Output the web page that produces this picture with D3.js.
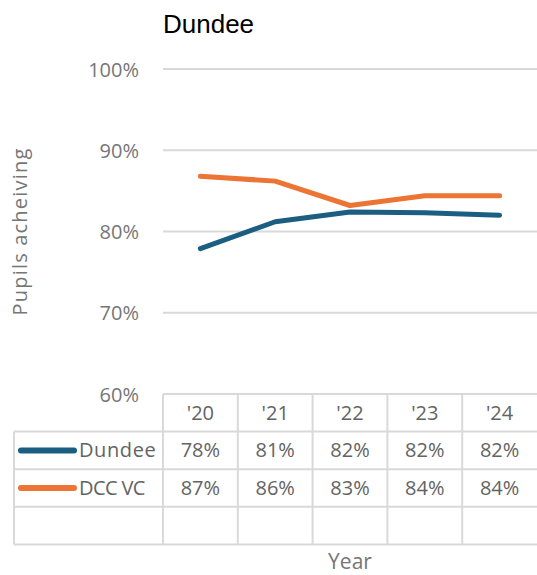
<!DOCTYPE html>
<html>
<head>
<meta charset="utf-8">
<script src="https://cdn.jsdelivr.net/npm/d3@7"></script>
<style>
  body { margin: 0; background: #fff; }
  svg text { font-family: "Open Sans", sans-serif; fill: #636363; }
</style>
</head>
<body>
<svg width="537" height="575"></svg>
<script>
// values
const years = ["'20", "'21", "'22", "'23", "'24"];
const dundee = [77.9, 81.2, 82.4, 82.3, 82.0];
const dccVc = [86.8, 86.2, 83.2, 84.4, 84.4];
const yTicks = [60, 70, 80, 90, 100];

const series = [
  { name: 'Dundee', values: dundee, color: '#1b5e82' },
  { name: 'DCC VC', values: dccVc, color: '#ec7434' }
];

const svg = d3.select('svg');
const grid = '#d9d9d9';

// plot area
const margin = { left: 163, right: 537, top: 69, bottom: 394 };
const rowH = 37.6;

const xScale = d3.scaleBand().domain(years).range([margin.left, margin.right]);
const yScale = d3.scaleLinear().domain([60, 100]).range([margin.bottom, margin.top]);

// title
svg.append('text')
  .attr('x', margin.left).attr('y', 33)
  .style('font-family', '"Liberation Sans", Arial, sans-serif')
  .style('font-size', '26px')
  .style('fill', '#000')
  .text('Dundee');

// gridlines
svg.append('g').selectAll('line')
  .data(yTicks.filter(d => d > 60))
  .enter().append('line')
  .attr('x1', margin.left).attr('x2', margin.right)
  .attr('y1', d => yScale(d)).attr('y2', d => yScale(d))
  .attr('stroke', grid).attr('stroke-width', 2);

// y axis labels
const yAxis = svg.append('g')
  .attr('transform', `translate(${margin.left - 21}, 0)`)
  .call(d3.axisLeft(yScale).tickValues(yTicks).tickSize(0).tickFormat(d => d + '%'));
yAxis.select('.domain').remove();
yAxis.selectAll('text')
  .style('font-family', '"Open Sans", sans-serif')
  .style('font-size', '20px')
  .style('fill', '#767676')
  .attr('dy', '0.35em');

// y axis title
svg.append('text')
  .attr('transform', `translate(27, ${(margin.top + margin.bottom) / 2}) rotate(-90)`)
  .attr('text-anchor', 'middle')
  .style('font-size', '20px')
  .style('letter-spacing', '1.2px')
  .style('fill', '#767676')
  .text('Pupils acheiving');

// lines
const line = d3.line()
  .x((d, i) => xScale(years[i]) + xScale.bandwidth() / 2)
  .y(d => yScale(d));

svg.append('g').selectAll('path')
  .data(series)
  .enter().append('path')
  .attr('d', d => line(d.values))
  .attr('fill', 'none')
  .attr('stroke', d => d.color)
  .attr('stroke-width', 5)
  .attr('stroke-linecap', 'round')
  .attr('stroke-linejoin', 'round');

// data table
const table = svg.append('g');
const tableLeft = 14;
const rowY = i => margin.bottom + rowH * i;   // i = 0 header top
const nRows = series.length + 1;                // plus one empty row

// horizontal lines
table.append('line')
  .attr('x1', margin.left).attr('x2', margin.right)
  .attr('y1', margin.bottom).attr('y2', margin.bottom)
  .attr('stroke', grid).attr('stroke-width', 2);
d3.range(1, nRows + 2).forEach(i => {
  table.append('line')
    .attr('x1', tableLeft).attr('x2', margin.right)
    .attr('y1', rowY(i)).attr('y2', rowY(i))
    .attr('stroke', grid).attr('stroke-width', 2);
});
// vertical lines
years.forEach(y => {
  table.append('line')
    .attr('x1', xScale(y)).attr('x2', xScale(y))
    .attr('y1', margin.bottom).attr('y2', rowY(nRows + 1))
    .attr('stroke', grid).attr('stroke-width', 2);
});
table.append('line')
  .attr('x1', tableLeft).attr('x2', tableLeft)
  .attr('y1', rowY(1)).attr('y2', rowY(nRows + 1))
  .attr('stroke', grid).attr('stroke-width', 2);

// header row
table.selectAll('.hdr')
  .data(years)
  .enter().append('text')
  .attr('class', 'hdr')
  .attr('x', d => xScale(d) + xScale.bandwidth() / 2)
  .attr('y', rowY(0) + rowH / 2)
  .attr('dy', '0.35em')
  .attr('text-anchor', 'middle')
  .style('font-size', '20px')
  .text(d => d);

// series rows
const fmt = d3.format('.0f');
series.forEach((s, r) => {
  const cy = rowY(r + 1) + rowH / 2;
  table.append('line')
    .attr('x1', 21).attr('x2', 74)
    .attr('y1', cy).attr('y2', cy)
    .attr('stroke', s.color).attr('stroke-width', 6)
    .attr('stroke-linecap', 'round');
  table.append('text')
    .attr('x', 79).attr('y', cy)
    .attr('dy', '0.35em')
    .style('font-size', '20px')
    .style('letter-spacing', r === 0 ? '0.6px' : '-0.6px')
    .text(s.name);
  table.selectAll('.v' + r)
    .data(s.values)
    .enter().append('text')
    .attr('x', (d, i) => xScale(years[i]) + xScale.bandwidth() / 2)
    .attr('y', cy)
    .attr('dy', '0.35em')
    .attr('text-anchor', 'middle')
    .style('font-size', '20px')
    .text(d => fmt(d) + '%');
});

// x axis title
svg.append('text')
  .attr('x', (margin.left + margin.right) / 2)
  .attr('y', 569)
  .attr('text-anchor', 'middle')
  .style('font-size', '21px')
  .style('fill', '#767676')
  .text('Year');
</script>
</body>
</html>
